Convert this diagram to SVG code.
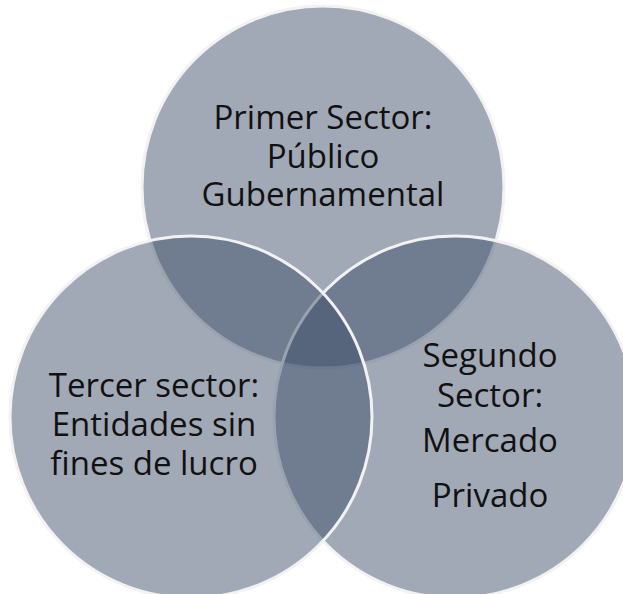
<svg xmlns="http://www.w3.org/2000/svg" width="623" height="594" viewBox="0 0 623 594">
<style>
.c{fill:#3b4b66;fill-opacity:0.48;stroke:#f2f2f2;stroke-width:3}
.t{font-family:"Open Sans","Noto Sans",sans-serif;font-size:33px;fill:#111;text-anchor:middle}
</style>
<rect width="623" height="594" fill="#ffffff"/>
<g id="primer">
<circle class="c" cx="323" cy="187" r="181"/>
<text class="t"><tspan x="323" y="129">Primer Sector:</tspan><tspan x="323" y="168">Público</tspan><tspan x="323" y="206">Gubernamental</tspan></text>
</g>
<g id="segundo">
<circle class="c" cx="455" cy="417" r="181"/>
<text class="t"><tspan x="490" y="367">Segundo</tspan><tspan x="490" y="407">Sector:</tspan><tspan x="490" y="452">Mercado</tspan><tspan x="490" y="507">Privado</tspan></text>
</g>
<g id="tercer">
<circle class="c" cx="191" cy="417" r="181"/>
<text class="t"><tspan x="154" y="397">Tercer sector:</tspan><tspan x="154" y="436">Entidades sin</tspan><tspan x="154" y="475">fines de lucro</tspan></text>
</g>
<g id="connectors"></g>
</svg>
